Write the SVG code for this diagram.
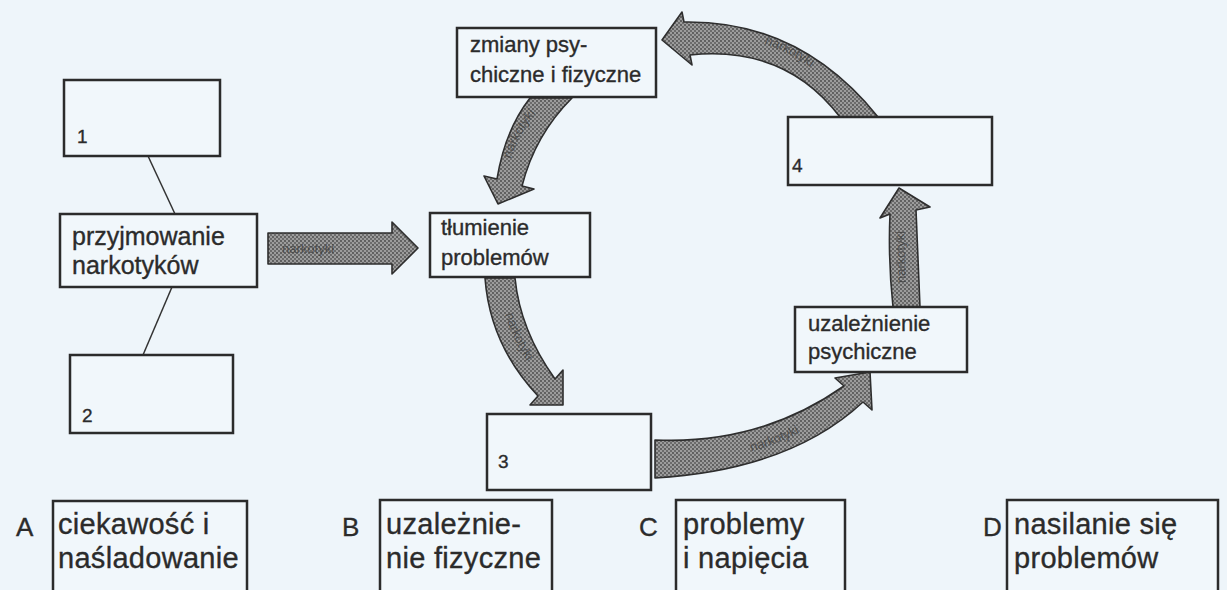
<svg xmlns="http://www.w3.org/2000/svg" width="1227" height="590" viewBox="0 0 1227 590">
<defs>
<pattern id="stip" width="4" height="4" patternUnits="userSpaceOnUse">
<rect width="4" height="4" fill="#9c9c9c"/>
<circle cx="1" cy="1" r="0.9" fill="#444"/>
<circle cx="3" cy="3" r="0.9" fill="#555"/>
</pattern>
<style>
.box{fill:#f1f7fb;stroke:#2b2b2b;stroke-width:2.5}
.t{font-family:"Liberation Sans",Arial,sans-serif;fill:#2b2b2b;stroke:#2b2b2b;stroke-width:0.35}
.arr{fill:url(#stip);stroke:#2e2e2e;stroke-width:1.6;stroke-linejoin:round}
.al{font-family:"Liberation Sans",Arial,sans-serif;font-size:13px;fill:#3a3a3a;opacity:0.7}
.ln{stroke:#333;stroke-width:1.5;fill:none}
.opt{font-size:29px;letter-spacing:0.3px}
</style>
<path id="p1" d="M282,253 L392,253"/>
<path id="p2" d="M700,36 Q790,30 858,112"/>
<path id="p3" d="M507,178 Q514,130 550,100"/>
<path id="p4" d="M500,285 Q505,340 545,385"/>
<path id="p5" d="M668,462 Q780,462 852,396"/>
<path id="p6" d="M906,300 L904,214"/>
</defs>
<rect width="1227" height="590" fill="#eef5fa"/>

<g id="connectors">
<line class="ln" x1="148" y1="156" x2="175" y2="214"/>
<line class="ln" x1="172" y1="287" x2="143" y2="355"/>
<path class="arr" d="M268,233 H392 V222 L418,248 L392,274 V264 H268 Z"/>
<text class="al"><textPath href="#p1">narkotyki</textPath></text>
<path class="arr" d="M878,117 Q800,20 684,22 L682,12 L662,40 L692,65 L690,55 Q785,45 840,117 Z"/>
<text class="al"><textPath href="#p2" startOffset="50%" text-anchor="middle">narkotyki</textPath></text>
<path class="arr" d="M530,98 L572,98 Q535,135 522,186 L534,189 L498,204 L484,176 L497,179 Q505,130 530,98 Z"/>
<text class="al"><textPath href="#p3" startOffset="50%" text-anchor="middle">narkotyki</textPath></text>
<path class="arr" d="M485,278 L515,278 Q520,330 555,379 L563,370 L563,405 L530,405 L538,396 Q490,345 485,278 Z"/>
<text class="al"><textPath href="#p4" startOffset="50%" text-anchor="middle">narkotyki</textPath></text>
<path class="arr" d="M655,440 Q760,445 844,386 L835,378 L870,372 L872,410 L863,402 Q790,470 655,478 Z"/>
<text class="al"><textPath href="#p5" startOffset="55%" text-anchor="middle">narkotyki</textPath></text>
<path class="arr" d="M893,307 Q888,260 890,214 L880,218 L899,188 L930,207 L916,210 Q918,260 920,307 Z"/>
<text class="al"><textPath href="#p6" startOffset="50%" text-anchor="middle">narkotyki</textPath></text>
</g>

<g id="box1"><rect class="box" x="64" y="80" width="156" height="76"/><text class="t" x="77" y="143" font-size="19">1</text></g>
<g id="przyjmowanie"><rect class="box" x="60" y="214" width="197" height="73"/><text class="t" x="72" y="245" font-size="25">przyjmowanie</text><text class="t" x="72" y="274" font-size="25">narkotyków</text></g>
<g id="box2"><rect class="box" x="70" y="355" width="163" height="78"/><text class="t" x="82" y="422" font-size="19">2</text></g>
<g id="zmiany"><rect class="box" x="457" y="28" width="199" height="69"/><text class="t" x="470" y="52" font-size="22">zmiany psy-</text><text class="t" x="470" y="82" font-size="22">chiczne i fizyczne</text></g>
<g id="tlumienie"><rect class="box" x="430" y="213" width="160" height="64"/><text class="t" x="441" y="235" font-size="22">tłumienie</text><text class="t" x="441" y="265" font-size="22">problemów</text></g>
<g id="box4"><rect class="box" x="788" y="117" width="204" height="68"/><text class="t" x="792" y="172" font-size="19">4</text></g>
<g id="uzaleznienie"><rect class="box" x="795" y="307" width="172" height="65"/><text class="t" x="808" y="331" font-size="22">uzależnienie</text><text class="t" x="808" y="359" font-size="22">psychiczne</text></g>
<g id="box3"><rect class="box" x="487" y="414" width="164" height="76"/><text class="t" x="498" y="468" font-size="19">3</text></g>

<g id="optA"><text class="t" x="16" y="536" font-size="26">A</text><rect class="box" x="53" y="501" width="194" height="100"/><text class="t opt" x="58" y="534">ciekawość i</text><text class="t opt" x="58" y="568">naśladowanie</text></g>
<g id="optB"><text class="t" x="342" y="536" font-size="26">B</text><rect class="box" x="380" y="500" width="172" height="100"/><text class="t opt" x="386" y="534">uzależnie-</text><text class="t opt" x="386" y="568">nie fizyczne</text></g>
<g id="optC"><text class="t" x="639" y="536" font-size="26">C</text><rect class="box" x="676" y="500" width="169" height="100"/><text class="t opt" x="683" y="534">problemy</text><text class="t opt" x="683" y="568">i napięcia</text></g>
<g id="optD"><text class="t" x="983" y="536" font-size="26">D</text><rect class="box" x="1007" y="500" width="211" height="100"/><text class="t opt" x="1014" y="534">nasilanie się</text><text class="t opt" x="1014" y="568">problemów</text></g>
</svg>
